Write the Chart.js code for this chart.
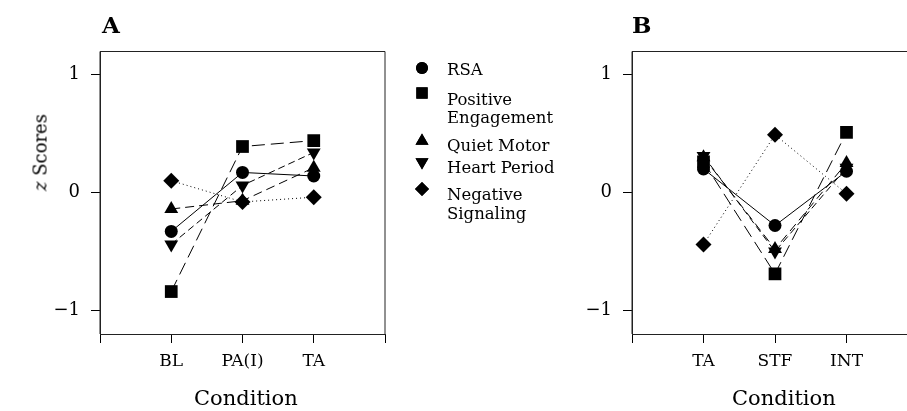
<!DOCTYPE html>
<html>
<head>
<meta charset="utf-8">
<script src="https://cdn.jsdelivr.net/npm/chart.js@4"></script>
<style>
  body { margin: 0; width: 907px; height: 411px; overflow: hidden; background: #fff; position: relative; font-family: "DejaVu Serif", serif; }
  canvas { position: absolute; top: 0; }
  .lbl { position: absolute; color: #000; white-space: nowrap; }
</style>
</head>
<body>
<canvas id="chartA" width="570" height="411" style="left:0"></canvas>
<canvas id="chartB" width="400" height="411" style="left:530px"></canvas>
<div class="lbl" style="left:102px; top:11px; font-size:23px; font-weight:bold;">A</div>
<div class="lbl" style="left:632px; top:11px; font-size:23px; font-weight:bold;">B</div>
<div class="lbl" style="left:0; top:142px; font-size:18px; transform:rotate(-90deg); transform-origin:50% 50%; width:80px; text-align:center;"><i>z</i> Scores</div>
<div class="lbl" style="left:194px; top:386px; font-size:21px; width:100px; text-align:center;">Condition</div>
<div class="lbl" style="left:732px; top:386px; font-size:21px; width:100px; text-align:center;">Condition</div>
<script>
const conditionsA = ['BL', 'PA(I)', 'TA'];
const conditionsB = ['TA', 'STF', 'INT'];
const seriesNames = ['RSA', 'Positive Engagement', 'Quiet Motor', 'Heart Period', 'Negative Signaling'];

// panel A values (z scores)
const rsaA = [-0.33, 0.17, 0.14];
const engagementA = [-0.84, 0.39, 0.44];
const motorA = [-0.14, -0.07, 0.21];
const heartA = [-0.44, 0.06, 0.34];
const signalingA = [0.10, -0.08, -0.04];

// panel B values
const rsaB = [0.20, -0.28, 0.18];
const engagementB = [0.26, -0.69, 0.51];
const motorB = [0.30, -0.48, 0.25];
const heartB = [0.31, -0.50, 0.21];
const signalingB = [-0.44, 0.49, -0.01];

const yTicks = [-1, 0, 1];

const looks = [
  { pointStyle: 'circle', rotation: 0, dash: [], radius: 6.5, legendR: 6 },
  { pointStyle: 'rect', rotation: 0, dash: [13, 6], radius: 9, legendR: 8 },
  { pointStyle: 'triangle', rotation: 0, dash: [9, 5], radius: 8, legendR: 7.5 },
  { pointStyle: 'triangle', rotation: 180, dash: [7, 4], radius: 8, legendR: 7.5 },
  { pointStyle: 'rectRot', rotation: 0, dash: [1, 3], radius: 8, legendR: 7 }
];

const font = { family: 'DejaVu Serif', size: 17 };

function makeDatasets(seriesList) {
  return seriesList.map((vals, i) => ({
    label: seriesNames[i],
    data: vals.map((v, j) => ({ x: j + 1, y: v })),
    showLine: true,
    borderColor: '#000',
    borderWidth: 1,
    borderDash: looks[i].dash,
    backgroundColor: '#000',
    pointStyle: looks[i].pointStyle,
    rotation: looks[i].rotation,
    pointRadius: looks[i].radius,
    pointBorderWidth: 0
  }));
}

const boxPlugin = {
  id: 'box',
  afterDraw(chart) {
    const { ctx, chartArea: a } = chart;
    ctx.save();
    ctx.strokeStyle = '#222';
    ctx.lineWidth = 1;
    ctx.beginPath();
    ctx.moveTo(a.left, a.bottom);
    ctx.lineTo(a.left, a.top + 0.5);
    ctx.lineTo(a.right, a.top + 0.5);
    ctx.lineTo(a.right, a.bottom);
    ctx.stroke();
    ctx.restore();
  }
};

const legendPlugin = {
  id: 'sideLegend',
  afterDraw(chart) {
    const ctx = chart.ctx;
    const markerY = [68, 93, 141, 162, 189];
    const lines = [['RSA', 75], ['Positive', 105], ['Engagement', 123], ['Quiet Motor', 151],
                   ['Heart Period', 173], ['Negative', 200], ['Signaling', 219]];
    ctx.save();
    ctx.fillStyle = '#000';
    ctx.strokeStyle = '#000';
    looks.forEach((lk, i) => {
      Chart.helpers.drawPoint(ctx, { pointStyle: lk.pointStyle, rotation: lk.rotation, radius: lk.legendR, borderWidth: 0 }, 422, markerY[i]);
      ctx.fill();
    });
    ctx.font = '16.5px "DejaVu Serif"';
    ctx.textBaseline = 'alphabetic';
    lines.forEach(([t, y]) => ctx.fillText(t, 447, y));
    ctx.restore();
  }
};

function makeChart(id, cats, seriesList, yWidth, rightPad, plugins) {
  new Chart(document.getElementById(id), {
    type: 'scatter',
    data: { datasets: makeDatasets(seriesList) },
    options: {
      responsive: false,
      animation: false,
      layout: { padding: { top: 51, right: rightPad, left: 0, bottom: 0 } },
      plugins: { legend: { display: false }, tooltip: { enabled: false } },
      scales: {
        x: {
          type: 'linear', min: 0, max: 4,
          afterBuildTicks: s => { s.ticks = [0, 1, 2, 3, 4].map(v => ({ value: v })); },
          afterFit: s => { s.height = 77; },
          ticks: { color: '#000', font: font, padding: 8, maxRotation: 0,
                   callback: v => cats[v - 1] || '' },
          grid: { drawOnChartArea: false, color: '#000', tickLength: 9 },
          border: { color: '#222' }
        },
        y: {
          min: -1.2, max: 1.2,
          afterBuildTicks: s => { s.ticks = yTicks.map(v => ({ value: v })); },
          afterFit: s => { s.width = yWidth; },
          ticks: { color: '#000', font: { family: 'DejaVu Serif', size: 18 }, padding: 11,
                   callback: v => v < 0 ? '\u2212' + Math.abs(v) : String(v) },
          grid: { drawOnChartArea: false, color: '#000', tickLength: 9 },
          border: { color: '#222' }
        }
      }
    },
    plugins: plugins
  });
}

makeChart('chartA', conditionsA, [rsaA, engagementA, motorA, heartA, signalingA], 100, 185, [boxPlugin, legendPlugin]);
makeChart('chartB', conditionsB, [rsaB, engagementB, motorB, heartB, signalingB], 102, 12, [boxPlugin]);
</script>
</body>
</html>
